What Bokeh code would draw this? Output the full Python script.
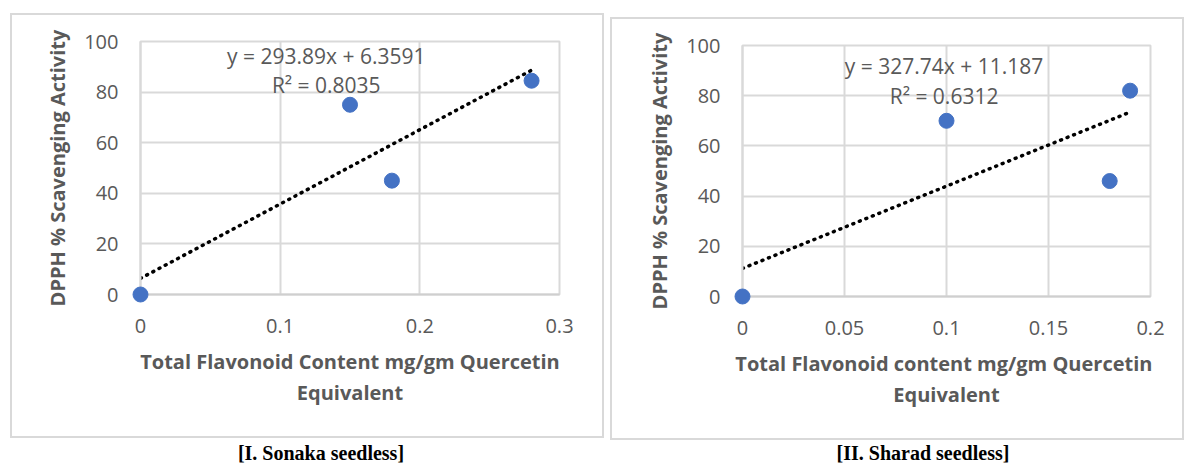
from bokeh.plotting import figure
from bokeh.models import Range1d, FixedTicker, Div
from bokeh.layouts import row, column
from bokeh.embed import file_html
from bokeh.resources import INLINE
from bokeh.core.properties import value

# ---------------- data ----------------
sonaka_flavonoid = [0, 0.15, 0.18, 0.28]
sonaka_dpph = [0, 75, 45, 84.5]
sonaka_slope = 293.89
sonaka_intercept = 6.3591
sonaka_r2 = 0.8035
sonaka_xticks = [0, 0.1, 0.2, 0.3]
sonaka_xlabels = ["0", "0.1", "0.2", "0.3"]

sharad_flavonoid = [0, 0.1, 0.18, 0.19]
sharad_dpph = [0, 70, 46, 82]
sharad_slope = 327.74
sharad_intercept = 11.187
sharad_r2 = 0.6312
sharad_xticks = [0, 0.05, 0.1, 0.15, 0.2]
sharad_xlabels = ["0", "0.05", "0.1", "0.15", "0.2"]

y_ticks = [0, 20, 40, 60, 80, 100]
y_label = "DPPH % Scavenging Activity"
sonaka_xtitle = "Total Flavonoid Content mg/gm Quercetin\nEquivalent"
sharad_xtitle = "Total Flavonoid content  mg/gm Quercetin\nEquivalent"
captions = ["[I. Sonaka seedless]", "[II. Sharad seedless]"]

GRID = "#d9d9d9"
TXT = "#595959"
FONT = "Open Sans"


def panel(xs, ys, slope, intercept, r2, xticks, xlabels, xtitle,
          width, height, borders, margin, eq_x, eq_y):
    xmax = xticks[-1]
    p = figure(width=width, height=height,
               x_range=Range1d(0, xmax), y_range=Range1d(0, 100),
               output_backend="svg", toolbar_location=None,
               min_border_left=borders[0], min_border_right=borders[1],
               min_border_top=borders[2], min_border_bottom=borders[3],
               styles={"border": "2px solid " + GRID}, margin=margin)
    p.outline_line_color = GRID
    p.outline_line_width = 2
    p.background_fill_color = "white"
    p.border_fill_color = "white"

    p.xaxis.ticker = FixedTicker(ticks=xticks)
    p.xaxis.major_label_overrides = {t: l for t, l in zip(xticks, xlabels)}
    p.yaxis.ticker = FixedTicker(ticks=y_ticks)
    p.xgrid.ticker = FixedTicker(ticks=xticks)
    p.ygrid.ticker = FixedTicker(ticks=y_ticks)
    for g in (p.xgrid, p.ygrid):
        g.grid_line_color = GRID
        g.grid_line_width = 2
    for ax in (p.xaxis, p.yaxis):
        ax.axis_line_color = GRID
        ax.axis_line_width = 2
        ax.major_tick_line_color = None
        ax.minor_tick_line_color = None
        ax.major_tick_out = 0
        ax.major_tick_in = 0
        ax.minor_tick_out = 0
        ax.major_label_text_font = FONT
        ax.major_label_text_font_size = "20px"
        ax.major_label_text_color = TXT
        ax.axis_label_text_font = FONT
        ax.axis_label_text_font_size = "20px"
        ax.axis_label_text_font_style = "bold"
        ax.axis_label_text_color = TXT
    p.xaxis.axis_line_color = "#cfcfcf"
    p.xaxis.major_label_standoff = 24
    p.yaxis.major_label_standoff = 22
    p.xaxis.axis_label = xtitle
    p.xaxis.axis_label_text_line_height = 1.15
    p.xaxis.axis_label_standoff = 12
    p.yaxis.axis_label = y_label
    p.yaxis.axis_label_standoff = 10

    tx = [0, max(xs)]
    ty = [intercept + slope * v for v in tx]
    p.line(tx, ty, line_color="black", line_width=3.5, line_dash="1 6",
           line_cap="round")
    p.scatter(xs, ys, size=15, fill_color="#4472c4", line_color="#4472c4",
              level="overlay")

    eq = ["y = {}x + {}".format(slope, intercept), "R² = {}".format(r2)]
    p.text(x=[eq_x, eq_x], y=eq_y, text=eq, text_align="center",
           text_baseline="middle", text_font=value(FONT),
           text_font_size="21px", text_color=TXT)
    return p


left = panel(sonaka_flavonoid, sonaka_dpph, sonaka_slope, sonaka_intercept,
             sonaka_r2, sonaka_xticks, sonaka_xlabels, sonaka_xtitle,
             594, 425, (128, 47, 24, 139), (13, 0, 0, 10), 0.133, [94.1, 82.7])
right = panel(sharad_flavonoid, sharad_dpph, sharad_slope, sharad_intercept,
              sharad_r2, sharad_xticks, sharad_xlabels, sharad_xtitle,
              574, 423, (130, 36, 26, 146), (17, 0, 0, 6), 0.0988, [92.0, 79.9])

cap_style = {"font-family": "Liberation Serif", "font-weight": "bold",
             "font-size": "20px", "text-align": "center",
             "line-height": "22px", "color": "black"}
cap1 = Div(text=captions[0], width=300, height=22, styles=cap_style,
           margin=(2, 0, 0, 171))
cap2 = Div(text=captions[1], width=300, height=22, styles=cap_style,
           margin=(2, 0, 0, 302))

layout = column(row(left, right), row(cap1, cap2))
open("out.html", "w").write(file_html(layout, INLINE))
